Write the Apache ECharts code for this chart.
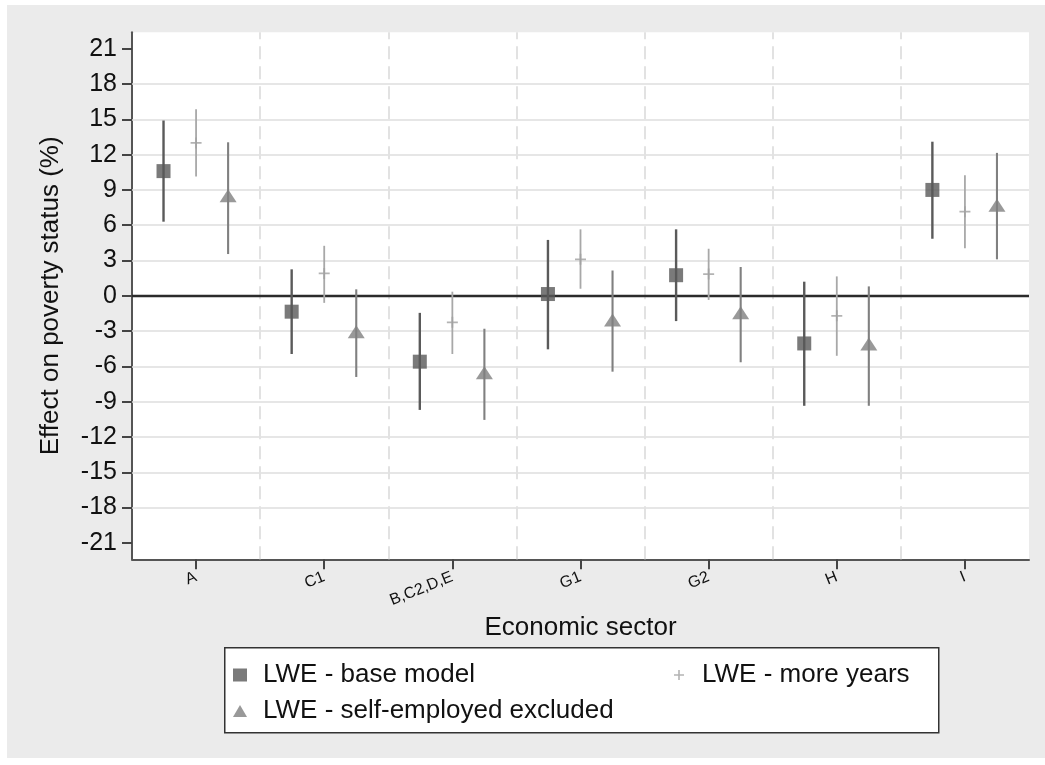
<!DOCTYPE html>
<html>
<head>
<meta charset="utf-8">
<script src="https://cdn.jsdelivr.net/npm/echarts@6/dist/echarts.min.js"></script>
<style>
  html, body { margin: 0; padding: 0; background: #ffffff; }
  #chart { position: absolute; left: 7px; top: 5px; width: 1038px; height: 753px; }
</style>
</head>
<body>
<div id="chart"></div>
<script>
// sectors on the x axis
const categories = ['A', 'C1', 'B,C2,D,E', 'G1', 'G2', 'H', 'I']

// LWE - base model: estimate and 95% CI
const baseEst = [10.6, -1.35, -5.6, 0.15, 1.75, -4.05, 9.0]
const baseLo = [6.3, -4.95, -9.7, -4.55, -2.15, -9.35, 4.85]
const baseHi = [14.9, 2.25, -1.45, 4.75, 5.65, 1.2, 13.1]

// LWE - more years
const yearsEst = [13.0, 1.9, -2.25, 3.1, 1.85, -1.7, 7.15]
const yearsLo = [10.15, -0.6, -4.95, 0.6, -0.35, -5.1, 4.05]
const yearsHi = [15.85, 4.25, 0.35, 5.65, 4.0, 1.65, 10.25]

// LWE - self-employed excluded
const selfEst = [8.5, -3.05, -6.55, -2.05, -1.45, -4.1, 7.7]
const selfLo = [3.55, -6.9, -10.55, -6.45, -5.65, -9.35, 3.1]
const selfHi = [13.05, 0.55, -2.8, 2.15, 2.45, 0.8, 12.15]

const yTicks = [-21, -18, -15, -12, -9, -6, -3, 0, 3, 6, 9, 12, 15, 18, 21]

const FONT = "'Liberation Sans', Arial, sans-serif"
const PLUS = 'path://M42,0h16v42h42v16h-42v42h-16v-42h-42v-16h42z'

const chart = echarts.init(document.getElementById('chart'))

const makeMarks = (est, off) => est.map((v, i) => [i + 1 + off, v])
const makeBars = (lo, hi, off) => lo.map((v, i) => [i + 1 + off, v, hi[i]])

const whisker = (name, data, color, width) => ({
  name: name,
  type: 'custom',
  z: 3,
  silent: true,
  data: data,
  encode: { x: 0, y: [1, 2] },
  renderItem: (params, api) => {
    const p1 = api.coord([api.value(0), api.value(1)])
    const p2 = api.coord([api.value(0), api.value(2)])
    return {
      type: 'line',
      shape: { x1: p1[0], y1: p1[1], x2: p2[0], y2: p2[1] },
      style: { stroke: color, lineWidth: width },
    }
  },
})

const legendBase = (name, left, top, w, h, pad) => ({
  data: [name],
  left: left,
  top: top,
  padding: 0,
  itemWidth: w,
  itemHeight: h,
  selectedMode: false,
  textStyle: {
    fontFamily: FONT,
    fontSize: 26,
    color: '#111111',
    lineHeight: 26,
    padding: [0, 0, 0, pad],
  },
})

const gridLines = yTicks.filter((v) => Math.abs(v) < 21 && v !== 0).map((v) => ({ yAxis: v }))
const dividers = categories.slice(1).map((c, i) => ({ xAxis: i + 1.5 }))

const option = {
  backgroundColor: '#ebebeb',
  animation: false,
  grid: { left: 125, top: 27.3, right: 16, bottom: 198.7, show: true, backgroundColor: '#ffffff', borderWidth: 0 },
  xAxis: {
    type: 'value',
    min: 0.5,
    max: 7.5,
    name: 'Economic sector',
    nameLocation: 'middle',
    nameGap: 41,
    nameTextStyle: { fontFamily: FONT, fontSize: 26, color: '#111111' },
    axisLine: { onZero: false, lineStyle: { color: '#555555', width: 2 } },
    axisTick: { customValues: [1, 2, 3, 4, 5, 6, 7], length: 10, lineStyle: { color: '#444444', width: 2 } },
    axisLabel: {
      customValues: [1, 2, 3, 4, 5, 6, 7],
      formatter: (v) => categories[Math.round(v) - 1],
      rotate: 22,
      margin: 17,
      fontFamily: FONT,
      fontSize: 16,
      color: '#111111',
    },
    splitLine: { show: false },
  },
  yAxis: {
    type: 'value',
    min: -22.4,
    max: 22.4,
    name: 'Effect on poverty status (%)',
    nameLocation: 'middle',
    nameGap: 68,
    nameTextStyle: { fontFamily: FONT, fontSize: 26, color: '#111111' },
    axisLine: { lineStyle: { color: '#555555', width: 2 } },
    axisTick: { customValues: yTicks, length: 10, lineStyle: { color: '#444444', width: 2 } },
    axisLabel: {
      customValues: yTicks,
      margin: 15,
      fontFamily: FONT,
      fontSize: 25,
      color: '#111111',
    },
    splitLine: { show: false },
  },
  legend: [
    legendBase('LWE - base model', 226, 657, 14, 13, 11),
    legendBase('LWE - more years', 667, 657, 10, 10, 13),
    legendBase('LWE - self-employed excluded', 226, 693, 14, 12, 11),
  ],
  graphic: [
    {
      type: 'rect',
      left: 217,
      top: 642,
      z: -1,
      shape: { width: 714, height: 85 },
      style: { fill: '#ffffff', stroke: '#333333', lineWidth: 1.5 },
    },
  ],
  series: [
    {
      type: 'line',
      data: [],
      silent: true,
      markLine: {
        silent: true,
        z: 1,
        symbol: ['none', 'none'],
        label: { show: false },
        emphasis: { disabled: true },
        animation: false,
        data: gridLines.map((d) => Object.assign({ lineStyle: { color: '#dedede', width: 1.5, type: 'solid' } }, d))
          .concat(dividers.map((d) => Object.assign({ lineStyle: { color: '#e2e2e2', width: 2, type: [13, 7] } }, d)))
          .concat([{ yAxis: 0, lineStyle: { color: '#2b2b2b', width: 2.4, type: 'solid' } }]),
      },
    },
    whisker('bar-base', makeBars(baseLo, baseHi, -0.254), '#5a5a5a', 2.4),
    whisker('bar-years', makeBars(yearsLo, yearsHi, 0), '#a8a8a8', 1.8),
    whisker('bar-self', makeBars(selfLo, selfHi, 0.25), '#808080', 2.1),
    {
      name: 'LWE - base model',
      type: 'scatter',
      z: 4,
      symbol: 'rect',
      symbolSize: 14,
      itemStyle: { color: '#595959' },
      data: makeMarks(baseEst, -0.254),
    },
    {
      name: 'LWE - more years',
      type: 'scatter',
      z: 4,
      symbol: PLUS,
      symbolSize: 11,
      itemStyle: { color: '#a0a0a0' },
      data: makeMarks(yearsEst, 0),
    },
    {
      name: 'LWE - self-employed excluded',
      type: 'scatter',
      z: 4,
      symbol: 'triangle',
      symbolSize: [17, 13],
      itemStyle: { color: '#7f7f7f' },
      data: makeMarks(selfEst, 0.25),
    },
  ],
}

chart.setOption(option)
</script>
</body>
</html>
